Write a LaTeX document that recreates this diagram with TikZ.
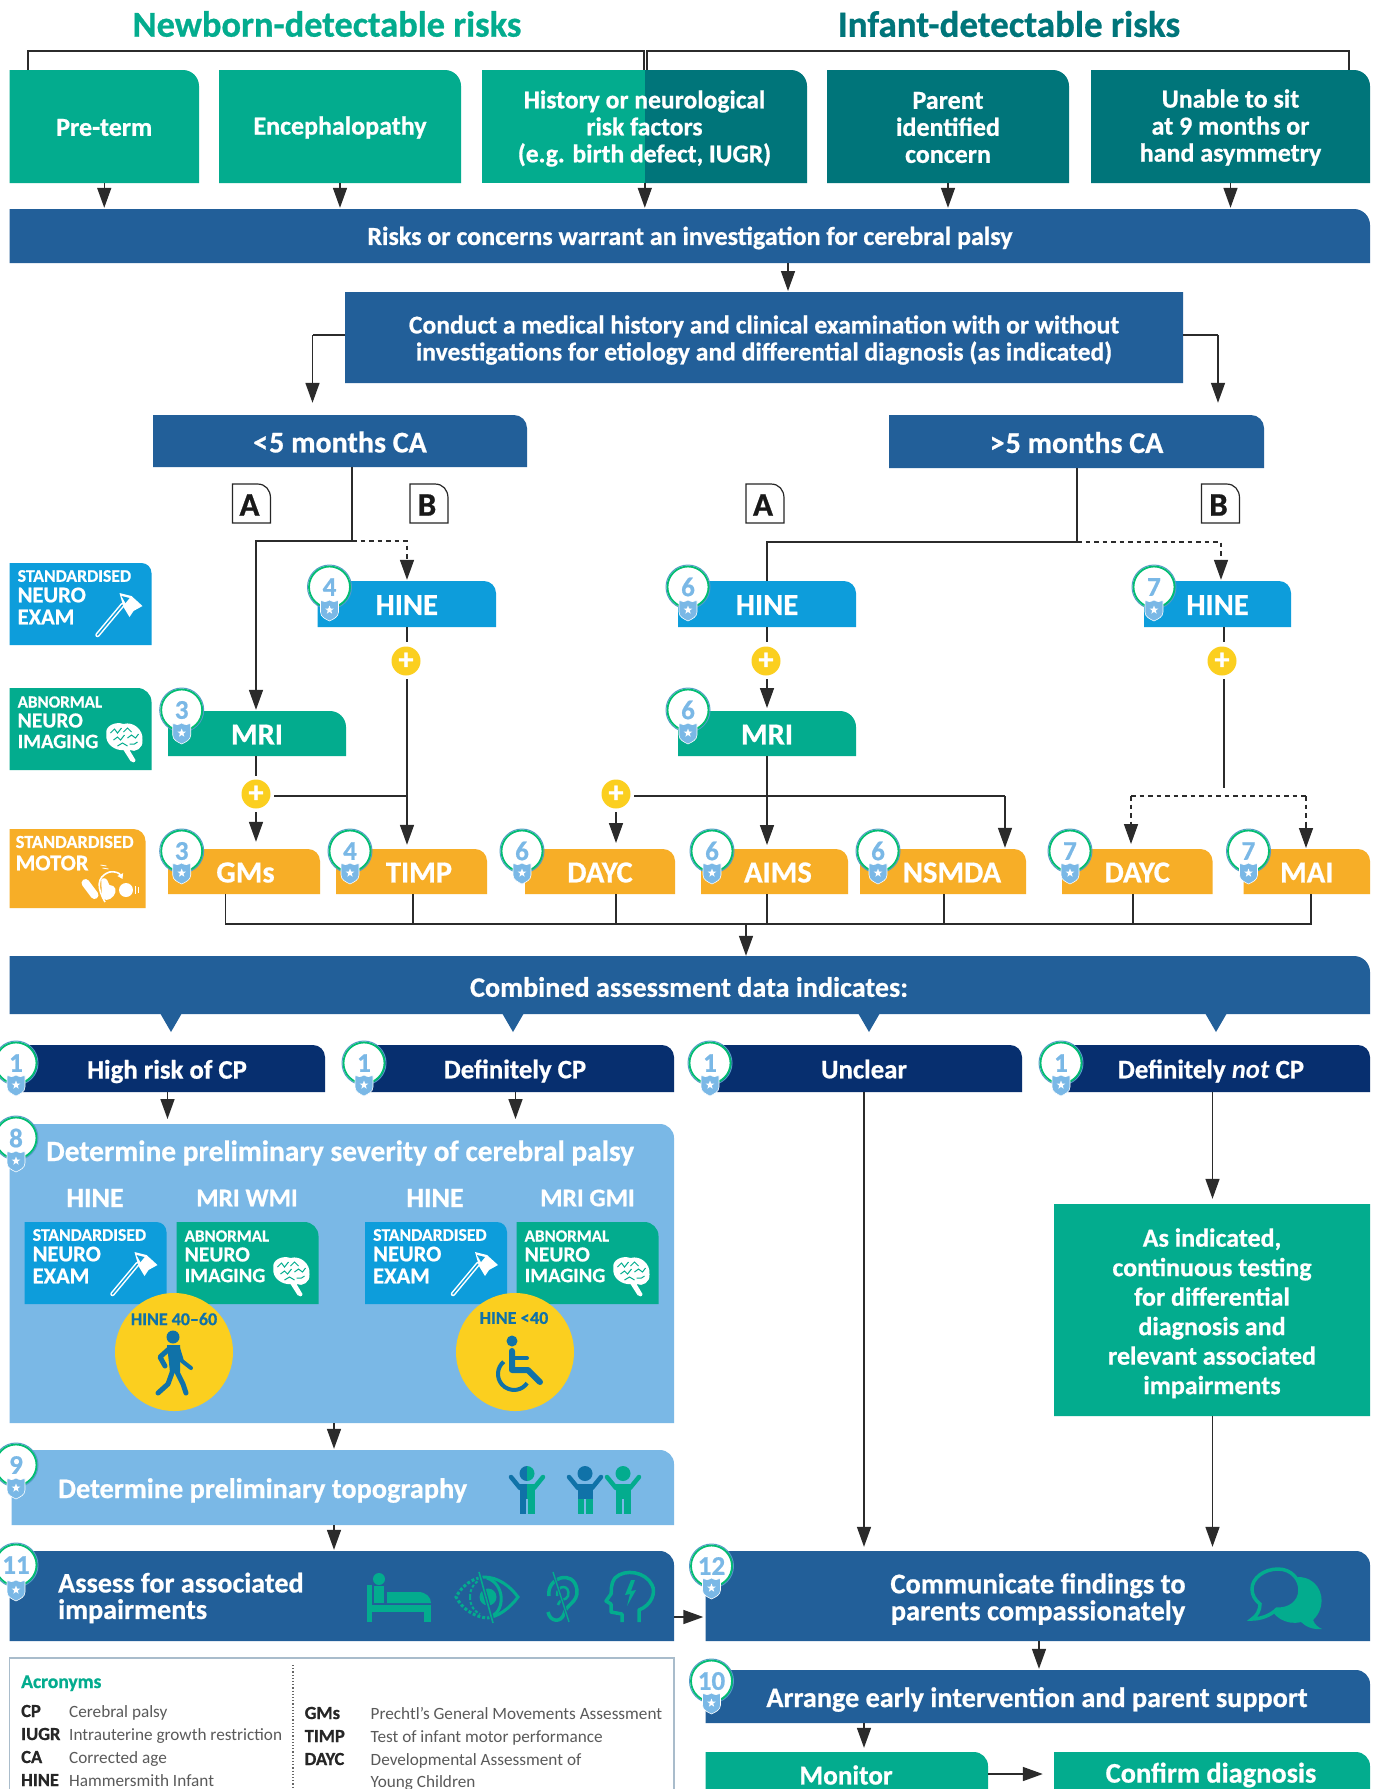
\documentclass[tikz,border=0pt]{standalone}
\usepackage{fontspec}
\setmainfont{Carlito}[BoldFeatures={FakeBold=0.7}]
\usetikzlibrary{arrows.meta,shapes.geometric}
\definecolor{teal}{HTML}{03AC8E}
\definecolor{dteal}{HTML}{00757A}
\definecolor{barblue}{HTML}{225F99}
\definecolor{navy}{HTML}{072F6F}
\definecolor{hblue}{HTML}{0D9DDB}
\definecolor{orng}{HTML}{F7AE27}
\definecolor{yel}{HTML}{FBCF1F}
\definecolor{lblue}{HTML}{7AB8E6}
\definecolor{fig}{HTML}{1072A8}
\definecolor{linec}{HTML}{2B2B2B}
\definecolor{greyt}{HTML}{5A5A5A}
\definecolor{panelline}{HTML}{A9BCCB}
\newcommand\fz[2]{\fontsize{#1}{#2}\selectfont}
\tikzset{
 boxnode/.style={inner sep=0pt,align=center,text=white,font=\bfseries\fz{26}{27}},
 big/.style={font=\bfseries\fz{30.5}{30}},
 ln/.style={draw=linec,line width=1.5pt},
 ar/.style={ln,-{Triangle[width=14pt,length=20pt]},shorten >=1pt},
 dsh/.style={dash pattern=on 4.5pt off 4pt},
 plusn/.style={circle,fill=yel,minimum size=29pt,inner sep=0pt,text=white,font=\bfseries\fz{30}{30}},
 hd/.style={inner sep=0pt,text=white,font=\bfseries\fz{28}{28}},
 tlab/.style={inner sep=0pt,anchor=west,text=white,font=\bfseries\fz{17.7}{17.7}},
 tlabb/.style={inner sep=0pt,anchor=west,text=white,font=\bfseries\fz{22.5}{22.5}},
 ab/.style={inner sep=0pt,anchor=base west,text=black!85,font=\bfseries\fz{18.5}{18.5}},
 df/.style={inner sep=0pt,anchor=base west,text=greyt,font=\fz{17.2}{17.2}},
 hammer/.pic={
  \draw[white,line width=4.5pt,line cap=round] (88,72) -- (113,42);
  \draw[hblue,line width=1.4pt,line cap=round] (88,72) -- (113,42);
  \fill[white] (110,30) -- (122,33) -- (133,43) -- (124,48) -- (120,54) -- (114,44) -- cycle;
  \fill[hblue] (112,33) -- (120,35) -- (116,40) -- cycle;
 },
 brain/.pic={
  \fill[white] (97,46) .. controls (95,38) and (106,33) .. (114,36) .. controls (124,33) and (134,42) .. (133,52) .. controls (134,60) and (126,65) .. (120,62) -- (126,72) .. controls (126,75) and (122,75) .. (121,73) -- (114,62) .. controls (106,63) and (95,56) .. (97,46) -- cycle;
  \draw[teal,line width=1pt] (101,45) -- (105,41) -- (108,45) -- (112,40) (104,52) -- (108,49) -- (111,52) -- (115,47) (114,44) -- (118,40) -- (122,44) (118,50) -- (122,47) -- (126,50) -- (129,46) (108,58) -- (113,55) -- (118,58) (120,56) -- (125,56) -- (128,54);
 },
 motoric/.pic={
  \draw[white,line width=8pt,line cap=round] (76,54) -- (85,66);
  \fill[white] (91,52) .. controls (93,47) and (98,49) .. (99,54) -- (100,56) .. controls (106,56) and (108,62) .. (104,67) .. controls (100,72) and (94,72) .. (92,68) -- cycle;
  \fill[white] (116.5,61) circle[radius=7pt];
  \draw[orng,line width=1pt] (91,46) -- (92,70);
  \draw[white,line width=1.6pt,-{Triangle[width=6pt,length=5pt]}] (95.5,73) .. controls (88,60) and (86,48) .. (100,43) .. controls (105,42) and (110,44) .. (113,50);
  \draw[white,line width=.8pt] (126,57) -- (126,65) (129,58) -- (129,64);
  \draw[white,line width=.8pt] (91,36) -- (97,37) (93,39) -- (99,40);
 },
}
% box with rounded upper right corner; #1 = options of the text node
\newcommand\bx[9][]{%
 \fill[#8] (#3,#4) -- ({#5-#7},#4) .. controls ({#5-.45*#7},#4) and (#5,{#4+.45*#7}) .. (#5,{#4+#7}) -- (#5,#6) -- (#3,#6) -- cycle;
 \node[inner sep=0pt,minimum width={(#5-#3)*1pt},minimum height={(#6-#4)*1pt}] (#2) at ({(#3+#5)/2},{(#4+#6)/2}) {};
 \node[boxnode,#1] (#2-t) at ({(#3+#5)/2},{(#4+#6)/2+1}) {#9};}
% numbered badge
\newcommand\badge[5]{%
 \draw[hblue!60!navy!70!white,line width=1pt] (#2,#3) circle[radius=22pt];
 \node[circle,draw=teal!80!green,line width=1.8pt,fill=white,minimum size=41pt,inner sep=0pt,text=lblue,font=\bfseries\fz{27}{27}] (#1) at (#2,#3) {#5};
 \fill[lblue,draw=white,line width=.6pt] ({#2-9},{#4-9.5}) .. controls ({#2-6},{#4-8}) and ({#2-3},{#4-8}) .. (#2,{#4-10}) .. controls ({#2+3},{#4-8}) and ({#2+6},{#4-8}) .. ({#2+9},{#4-9.5}) -- ({#2+9},{#4+2}) .. controls ({#2+9},{#4+7}) and ({#2+4},{#4+9}) .. (#2,{#4+11}) .. controls ({#2-4},{#4+9}) and ({#2-9},{#4+7}) .. ({#2-9},{#4+2}) -- cycle;
 \node[star,star points=5,star point ratio=2.4,fill=white,minimum size=9pt,inner sep=0pt] (#1-s) at (#2,#4) {};
}
\newcommand\legExam[3]{%
 \bx{#1}{#2}{#3}{#2+142}{#3+82}{10}{hblue}{}
 \node[tlab] (#1-a) at ({#2+8},{#3+13}) {STANDARDISED};
 \node[tlabb] (#1-b) at ({#2+8},{#3+32}) {NEURO};
 \node[tlabb] (#1-c) at ({#2+8},{#3+54}) {EXAM};
 \pic at (#2,#3) {hammer};
}
\newcommand\legImg[3]{%
 \bx{#1}{#2}{#3}{#2+142}{#3+82}{14}{teal}{}
 \node[tlab,font=\bfseries\fz{17}{17}] (#1-a) at ({#2+8},{#3+14}) {ABNORMAL};
 \node[tlabb,font=\bfseries\fz{21.5}{21.5}] (#1-b) at ({#2+8},{#3+32.5}) {NEURO};
 \node[tlabb,font=\bfseries\fz{20.5}{20.5}] (#1-c) at ({#2+8},{#3+53.5}) {IMAGING};
 \pic at (#2,#3) {brain};
}
% figure: x, top y, four colours
\newcommand\kid[6]{%
 \begin{scope}[shift={(#1,#2)}]
  \fill[#3] (0,0) arc[start angle=90,end angle=270,radius=7.5pt] -- cycle;
  \fill[#4] (0,0) arc[start angle=90,end angle=-90,radius=7.5pt] -- cycle;
  \draw[#3,line width=4.5pt,line cap=round] (-16,11) -- (-7,22);
  \draw[#4,line width=4.5pt,line cap=round] (16,11) -- (7,22);
  \fill[#3] (-7.5,18) -- (0,18) -- (0,33) -- (-7.5,33) -- cycle;
  \fill[#4] (0,18) -- (7.5,18) -- (7.5,33) -- (0,33) -- cycle;
  \fill[#5] (-7.5,33) -- (-1,33) -- (-1,48) -- (-7.5,48) -- cycle;
  \fill[#6] (1,33) -- (7.5,33) -- (7.5,48) -- (1,48) -- cycle;
 \end{scope}}
\begin{document}
\begin{tikzpicture}[x=1pt,y=-1pt]
\useasboundingbox (0,0) rectangle (1384,1789);
\clip (0,0) rectangle (1384,1789);
\fill[white] (0,0) rectangle (1384,1789);

% headings
\node[inner sep=0pt,text=teal,font=\bfseries\fz{36.4}{37}] (h1) at (327,24) {Newborn-detectable risks};
\node[inner sep=0pt,text=dteal,font=\bfseries\fz{37}{37}] (h2) at (1009,24) {Infant-detectable risks};

% top boxes
\bx{preterm}{9.5}{70}{199}{183}{16}{teal}{Pre-term}
\bx{enceph}{219}{70}{461}{183}{16}{teal}{Encephalopathy}
\fill[teal] (482,70) rectangle (645,183);
\bx{hist}{645}{70}{807}{183}{16}{dteal}{}
\node[boxnode,font=\bfseries\fz{25.6}{27}] (histt) at (644.5,128.5) {History or neurological\\risk factors\\(e.g. birth defect, IUGR)};
\bx{parent}{827}{70}{1069}{183}{16}{dteal}{Parent\\identified\\concern}
\bx{unable}{1091}{70}{1370}{183}{16}{dteal}{Unable to sit\\at 9 months or\\hand asymmetry}

% brackets
\coordinate (bl) at (28,51);
\coordinate (br) at (1349,51);
\coordinate (bm1) at (644,51);
\coordinate (bm2) at (647,51);
\draw[ln,line width=1.3pt] (bl |- preterm.north) -- (bl) -- (bm1) -- (bm1 |- preterm.north);
\draw[ln,line width=1.3pt] (bm2 |- hist.north) -- (bm2) -- (br) -- (br |- hist.north);

\bx{riskbar}{9.5}{209}{1370}{263}{16}{barblue}{}
\node[boxnode] (riskt) at (690,238) {Risks or concerns warrant an investigation for cerebral palsy};

\draw[ar] (preterm.south) -- (preterm.south |- riskbar.north);
\draw[ar] (enceph.south) -- (enceph.south |- riskbar.north);
\draw[ar] (hist.south west) -- (hist.south west |- riskbar.north);
\draw[ar] (parent.south) -- (parent.south |- riskbar.north);
\draw[ar] (unable.south) -- (unable.south |- riskbar.north);

\bx[font=\bfseries\fz{25.6}{27},yshift=-1.6pt]{conduct}{345}{292}{1183}{383}{0}{barblue}{Conduct a medical history and clinical examination with or without\\investigations for etiology and differential diagnosis (as indicated)}
\coordinate (cd) at (788,292);
\draw[ar] (cd |- riskbar.south) -- (cd);

\bx[font=\bfseries\fz{30}{30}]{lt}{153}{415}{527}{467}{13}{barblue}{<\kern1pt5 months CA}
\bx[font=\bfseries\fz{30}{30}]{gt}{889}{415}{1264}{468}{13}{barblue}{>\kern1pt5 months CA}

\coordinate (cl) at (312.5,335);
\coordinate (cr) at (1218,335);
\draw[ln] (conduct.west |- cl) -- (cl);
\draw[ar,shorten >=12pt] (cl) -- (cl |- lt.north);
\draw[ln] (conduct.east |- cr) -- (cr);
\draw[ar,shorten >=12pt] (cr) -- (cr |- gt.north);

% A / B tags
\tikzset{tag/.style={font=\bfseries\fz{33}{33},text=black!90}}
\newcommand\tagbox[3]{%
 \draw[black!85,line width=1.2pt,fill=white] (#2,484) -- ({#2+25},484) .. controls ({#2+33},484) and ({#2+38},490) .. ({#2+38},498) -- ({#2+38},523) -- (#2,523) -- cycle;
 \node[boxnode,tag,minimum width=34pt] (#1) at ({#2+17},505) {#3};}
\tagbox{ta}{232.5}{A}
\tagbox{tb}{410}{B}
\tagbox{tc}{746}{A}
\tagbox{td}{1201.5}{B}

% legend tiles
\legExam{lega}{9.5}{563}
\legImg{legb}{9.5}{688}
\bx{legc}{9.5}{829}{145.5}{908}{12}{orng}{}
\node[tlab,font=\bfseries\fz{18.4}{18}] (legc-a) at (15.5,842) {STANDARDISED};
\node[tlabb] (legc-b) at (15.5,863) {MOTOR};
\pic at (9.5,829) {motoric};

% test boxes
\bx[big]{hinea}{317.5}{581}{496}{627}{12}{hblue}{HINE}
\bx[big]{mria}{168}{711}{346}{756}{16}{teal}{MRI}
\bx[big]{gms}{168}{849}{320}{894}{12}{orng}{\hspace*{3pt}GMs}
\bx[big]{timp}{336}{849}{487}{894}{12}{orng}{\hspace*{15pt}TIMP}
\bx[big]{dayca}{525}{849}{675}{894}{12}{orng}{DAYC}
\bx[big]{aims}{701}{849}{848}{894}{12}{orng}{\hspace*{7pt}AIMS}
\bx[big]{nsmda}{860}{849}{1026}{894}{12}{orng}{\hspace*{18pt}NSMDA}
\bx[big]{daycb}{1062}{849}{1212.5}{894}{12}{orng}{DAYC}
\bx[big]{mai}{1243.5}{849}{1370}{894}{12}{orng}{MAI}
\bx[big]{hineb}{678}{581}{856}{627}{12}{hblue}{HINE}
\bx[big]{mrib}{678}{711}{856}{756}{16}{teal}{MRI}
\bx[big]{hinec}{1144}{581}{1291}{627}{12}{hblue}{HINE}

% plus nodes
\node[plusn] (pa) at (406,661) {+};
\node[plusn] (pb) at (256,794) {+};
\node[plusn] (pc) at (616,794) {+};
\node[plusn] (pd) at (766,661) {+};
\node[plusn] (pe) at (1222,661) {+};

% connectors <5
\coordinate (ja) at (352,541);
\coordinate (x4) at (407,541);
\coordinate (x3) at (256,541);
\draw[ln] (ja |- lt.south) -- (ja);
\draw[ar] (ja) -- (x3) -- (x3 |- mria.north);
\draw[ln,dsh] (ja) -- (x4) -- ++(0,22);
\draw[ar] (407,563) -- (x4 |- hinea.north);
\draw[ln] (x4 |- hinea.south) -- (407,642);
\draw[ar,shorten >=4pt] (407,679) -- (x4 |- timp.north);
\draw[ln] (x3 |- mria.south) -- (256,776);
\draw[ar,shorten >=7pt] (256,812) -- (x3 |- gms.north);
\coordinate (hj) at (407,796);
\draw[ln,line width=2pt] (274,796) -- (hj);

% DAYC / NSMDA
\coordinate (x6) at (1005,796);
\draw[ar,shorten >=6pt] (616,812) -- (616,849);
\draw[ln,line width=2pt] (634,796) -- (x6);
\draw[ar] (x6) -- (x6 |- nsmda.north);

% connectors >5
\coordinate (jb) at (1077,542);
\coordinate (x7) at (767,542);
\coordinate (x8) at (1221,542);
\draw[ln] (jb |- gt.south) -- (jb) -- (x7) -- (x7 |- hineb.north);
\draw[ln,dsh] (jb) -- (x8) -- (1221,565);
\draw[ar] (1221,563) -- (x8 |- hinec.north);
\draw[ln] (767,627) -- (767,642);
\draw[ar,shorten >=3pt] (767,679) -- (767,711);
\draw[ar,shorten >=4pt] (767,756) -- (767,849);
\draw[ln] (1224,627) -- (1224,642);
\draw[ln] (1224,679) -- (1224,788);
\coordinate (d1) at (1131,796);
\coordinate (d2) at (1306,796);
\draw[ln,dsh] (d1) -- (d2);
\draw[ln,dsh] (d1) -- (1131,825);
\draw[ar,shorten >=5pt] (1131,822) -- (1131,849);
\draw[ln,dsh] (d2) -- (1306,825);
\draw[ar] (1306,822) -- (1306,849);

% collector
\coordinate (cla) at (225.5,924);
\coordinate (clb) at (1311,924);
\draw[ln] (cla |- gms.south) -- (cla) -- (clb) -- (clb |- mai.south);
\foreach \xx/\nn in {413/timp,616/dayca,767/aims,944/nsmda,1133/daycb}{
  \draw[ln] (\xx,924 |- \nn.south) -- (\xx,924);}

% badges row
\badge{b1}{329.5}{587}{610}{4}
\badge{b2}{181.7}{710}{733}{3}
\badge{b3}{181.7}{851}{873}{3}
\badge{b4}{350}{851}{873}{4}
\badge{b5}{522}{851}{873}{6}
\badge{b6}{712}{851}{873}{6}
\badge{b7}{878}{851}{873}{6}
\badge{b8}{1070}{851}{873}{7}
\badge{b9}{1248.5}{851}{873}{7}
\badge{b10}{688}{587}{610}{6}
\badge{b11}{688}{710}{733}{6}
\badge{b12}{1154}{587}{610}{7}

% combined bar
\bx{comb}{9.5}{956}{1370}{1014}{16}{barblue}{}
\node[boxnode,font=\bfseries\fz{28.2}{28}] (combt) at (689,987) {Combined assessment data indicates:};
\coordinate (ca) at (746,924);
\draw[ar,shorten >=0pt] (ca) -- (ca |- comb.north);
\foreach \xx in {171,513,869,1216}{\fill[barblue] ({\xx-11},1013) -- ({\xx+11},1013) -- (\xx,1032) -- cycle;}

% result row
\tikzset{res/.style={font=\bfseries\fz{26.8}{26}}}
\bx{high}{9.5}{1045}{325}{1092}{12}{navy}{}
\node[boxnode,res] (hight) at (167,1071.5) {High risk of CP};
\bx{defi}{364}{1045}{674}{1092}{12}{navy}{}
\node[boxnode,res] (defit) at (515,1071) {Definitely CP};
\bx{uncl}{710}{1045}{1022}{1092}{12}{navy}{}
\node[boxnode,res] (unclt) at (864,1069) {Unclear};
\bx{notcp}{1061}{1045}{1370}{1092}{12}{navy}{}
\node[boxnode,res] (nott) at (1211,1071) {Definitely \textit{not} CP};
\badge{r1}{16}{1063}{1085}{1}
\badge{r2}{364}{1063}{1085}{1}
\badge{r3}{710}{1063}{1085}{1}
\badge{r4}{1061}{1063}{1085}{1}

% severity panel
\bx{sev}{9.5}{1124}{674}{1423}{14}{lblue}{}
\draw[ar] (167.5,1092) -- (167.5,1120);
\draw[ar] (515.5,1092) -- (515.5,1120);
\node[hd,anchor=west,font=\bfseries\fz{29.4}{30}] (sevt) at (46,1153) {Determine preliminary severity of cerebral palsy};
\node[hd] (s1) at (95,1198) {HINE};
\node[hd,font=\bfseries\fz{25.5}{26}] (s2) at (247,1198) {MRI WMI};
\node[hd] (s3) at (435,1198) {HINE};
\node[hd,font=\bfseries\fz{25.5}{26}] (s4) at (587.5,1198) {MRI GMI};
\legExam{ma}{24.5}{1222}
\legImg{mb}{176.5}{1222}
\legExam{mc}{365}{1222}
\legImg{md}{516.5}{1222}
\node[circle,fill=yel,minimum size=118pt,inner sep=0pt] (ya) at (174,1352) {};
\node[circle,fill=yel,minimum size=118pt,inner sep=0pt] (yb) at (515,1352) {};
\node[inner sep=0pt,text=fig,font=\bfseries\fz{18}{18}] (yat) at (174,1319) {HINE 40--60};
\node[inner sep=0pt,text=fig,font=\bfseries\fz{18}{18}] (ybt) at (514,1318) {HINE <\kern.5pt40};
% walker
\fill[fig] (173,1337) circle[radius=6.5pt];
\draw[fig,line width=5pt,line join=round,line cap=round] (170,1348) -- (160,1357) -- (165,1366);
\draw[fig,line width=4pt,line join=round,line cap=round] (178,1348) -- (182,1361) -- (191,1368);
\fill[fig] (167,1345) -- (180,1345) -- (180,1372) -- (170,1372) -- cycle;
\draw[fig,line width=5pt,line join=round,line cap=round] (173,1370) -- (168,1384) -- (158,1393);
\draw[fig,line width=5pt,line join=round,line cap=round] (176,1370) -- (183,1384) -- (186,1393);
% wheelchair
\fill[fig] (512,1341) circle[radius=5.5pt];
\draw[fig,line width=6pt,line join=round,line cap=round] (512,1351) -- (512,1370) -- (528,1370) -- (540,1382);
\draw[fig,line width=4pt,line cap=round] (512,1358) -- (527,1358);
\draw[fig,line width=4pt] (503.7,1361.7) arc[start angle=130,end angle=325,radius=16pt];

% topography
\bx{topo}{11.5}{1450}{674}{1525}{14}{lblue}{}
\node[hd,anchor=west,font=\bfseries\fz{28.3}{28}] (topot) at (58,1490.5) {Determine preliminary topography};
\kid{527}{1466}{fig}{teal}{fig}{teal}
\kid{585}{1466}{fig}{fig}{teal}{teal}
\kid{623}{1466}{teal}{teal}{teal}{teal}
\coordinate (s9) at (334,1423);
\draw[ar] (s9 |- sev.south) -- (s9 |- topo.north);

% assess
\bx{assess}{9.5}{1551}{674}{1641}{14}{barblue}{}
\node[hd,anchor=west,align=left,font=\bfseries\fz{28.2}{26.5}] (assesst) at (58,1598) {Assess for associated\\impairments};
\draw[ar] (s9 |- topo.south) -- (s9 |- assess.north);
% bed
\fill[teal] (379,1579) circle[radius=6pt];
\fill[teal] (367,1585) rectangle (372,1622);
\fill[teal] (367,1605) rectangle (431,1612);
\fill[teal] (424,1605) rectangle (431,1622);
\fill[teal] (374,1586) rectangle (384,1603);
\fill[teal] (387,1592) -- (418,1592) .. controls (426,1592) and (431,1597) .. (431,1603) -- (387,1603) -- cycle;
% eye
\draw[teal,line width=3pt] (484,1577) .. controls (498,1577) and (510,1586) .. (518,1597) .. controls (510,1608) and (498,1617) .. (487,1618);
\draw[teal,line width=3pt] (487,1578) .. controls (505,1584) and (505,1610) .. (492,1616);
\draw[teal,line width=3pt,dash pattern=on 3pt off 2pt] (484,1577) .. controls (472,1578) and (462,1586) .. (456,1597) .. controls (462,1608) and (472,1616) .. (486,1618);
\fill[teal] (488,1597) circle[radius=8.5pt];
\draw[teal,line width=2pt,dash pattern=on 3pt off 2pt] (470,1597) .. controls (470,1588) and (475,1582) .. (480,1580);
\draw[teal,line width=2pt,dash pattern=on 3pt off 2pt] (470,1597) .. controls (470,1606) and (475,1612) .. (480,1614);
\draw[barblue,line width=4pt] (479,1572) -- (493,1623);
\draw[teal,line width=1.6pt] (479,1572) -- (493,1623);
% ear
\draw[teal,line width=3.5pt] (549,1596) .. controls (546,1578) and (574,1568) .. (577,1590) .. controls (578,1603) and (566,1604) .. (564,1614) .. controls (561,1623) and (550,1622) .. (548,1612);
\draw[teal,line width=2.5pt] (557,1596) .. controls (556,1584) and (571,1584) .. (568,1596) .. controls (566,1601) and (560,1598) .. (558,1605);
\draw[barblue,line width=3pt] (553,1572) -- (569,1622);
\draw[teal,line width=1.4pt] (553,1572) -- (569,1622);
% head
\draw[teal,line width=3.5pt,line join=round] (639,1622) -- (639,1610) .. controls (652,1605) and (656,1592) .. (652,1585) .. controls (646,1572) and (625,1568) .. (615,1578) .. controls (610,1585) and (612,1590) .. (611,1594) -- (606,1601) -- (611,1604) -- (611,1612) -- (622,1614) -- (622,1622);
\fill[teal] (631,1580) -- (625,1595) -- (630,1594) -- (627,1606) -- (636,1590) -- (631,1591) -- (635,1580) -- cycle;

% right column
\bx[font=\bfseries\fz{26}{29.5},yshift=-2.3pt]{asind}{1054}{1204}{1370}{1416}{0}{teal}{As indicated,\\continuous testing\\for differential\\diagnosis and\\relevant associated\\impairments}
\bx{comm}{705.5}{1551}{1370}{1641}{14}{barblue}{}
\node[boxnode,font=\bfseries\fz{28.5}{27}] (commt) at (1038,1599) {Communicate findings to\\parents compassionately};
\bx{arr}{705.5}{1670}{1370}{1723}{14}{barblue}{}
\node[boxnode,font=\bfseries\fz{28.2}{28}] (arrt) at (1037,1699.5) {Arrange early intervention and parent support};
\bx{moni}{705.5}{1752}{988}{1830}{14}{teal}{}
\node[boxnode,font=\bfseries\fz{27.2}{27}] (monit) at (846,1775) {Monitor};
\bx{conf}{1054}{1752}{1370}{1830}{14}{teal}{}
\node[boxnode,font=\bfseries\fz{28.4}{28}] (conft) at (1211,1775) {Confirm diagnosis};

\coordinate (xu) at (864,1092);
\coordinate (xn) at (1212.5,1092);
\draw[ar,shorten >=4pt] (xu) -- (xu |- comm.north);
\draw[ar,shorten >=5pt] (xn) -- (xn |- asind.north);
\draw[ar,shorten >=4pt] (xn |- asind.south) -- (xn |- comm.north);
\coordinate (acy) at (674,1617);
\draw[ar,shorten >=2pt] (acy) -- (acy -| comm.west);
\coordinate (xc) at (1039,1641);
\draw[ar] (xc) -- (xc |- arr.north);
\draw[ar,shorten >=4pt] (xu |- arr.south) -- (xu |- moni.north);
\coordinate (my) at (988,1774);
\draw[ar,shorten >=11pt] (my) -- (my -| conf.west);

\badge{n8}{16}{1138}{1161}{8}
\badge{n9}{16}{1465}{1488}{9}
\badge{n11}{16}{1565}{1590}{11}
\badge{n12}{711.5}{1566}{1588}{12}
\badge{n10}{711.5}{1681}{1703}{10}

% speech icon
\fill[teal] (1298,1577) .. controls (1316,1577) and (1324,1593) .. (1321,1606) .. controls (1319,1614) and (1316,1617) .. (1313,1620) .. controls (1315,1625) and (1318,1627) .. (1322,1629) .. controls (1314,1630) and (1306,1627) .. (1301,1622) .. controls (1285,1626) and (1272,1615) .. (1270,1606) -- cycle;
\fill[barblue,draw=teal,line width=3.5pt] (1278,1569) .. controls (1292,1569) and (1300,1580) .. (1300,1590) .. controls (1300,1603) and (1288,1610) .. (1277,1609) .. controls (1270,1616) and (1260,1619) .. (1252,1619) .. controls (1257,1616) and (1260,1610) .. (1260,1604) .. controls (1255,1600) and (1252,1595) .. (1252,1589) .. controls (1252,1578) and (1264,1569) .. (1278,1569) -- cycle;

% acronym panel
\draw[draw=panelline,fill=white,line width=1.2pt] (9.5,1658) rectangle (674,1810);
\draw[black!60,line width=1.2pt,dotted] (293,1665) -- (293,1790);
\node[inner sep=0pt,anchor=base west,text=teal,font=\bfseries\fz{19.5}{20}] (acr) at (21,1688) {Acronyms};
\node[ab] (a1) at (21,1717) {CP};
\node[df] (d1n) at (69,1717) {Cerebral palsy};
\node[ab] (a2) at (21,1740) {IUGR};
\node[df] (d2n) at (69,1740) {Intrauterine growth restriction};
\node[ab] (a3) at (21,1763) {CA};
\node[df] (d3n) at (69,1763) {Corrected age};
\node[ab] (a4) at (21,1786) {HINE};
\node[df] (d4n) at (69,1786) {Hammersmith Infant};
\node[ab] (a5) at (304.5,1719) {GMs};
\node[df] (d5n) at (370.5,1719) {Prechtl’s General Movements Assessment};
\node[ab] (a6) at (304.5,1742) {TIMP};
\node[df] (d6n) at (370.5,1742) {Test of infant motor performance};
\node[ab] (a7) at (304.5,1765) {DAYC};
\node[df] (d7n) at (370.5,1765) {Developmental Assessment of};
\node[df] (d8n) at (370.5,1787) {Young Children};
\end{tikzpicture}
\end{document}
